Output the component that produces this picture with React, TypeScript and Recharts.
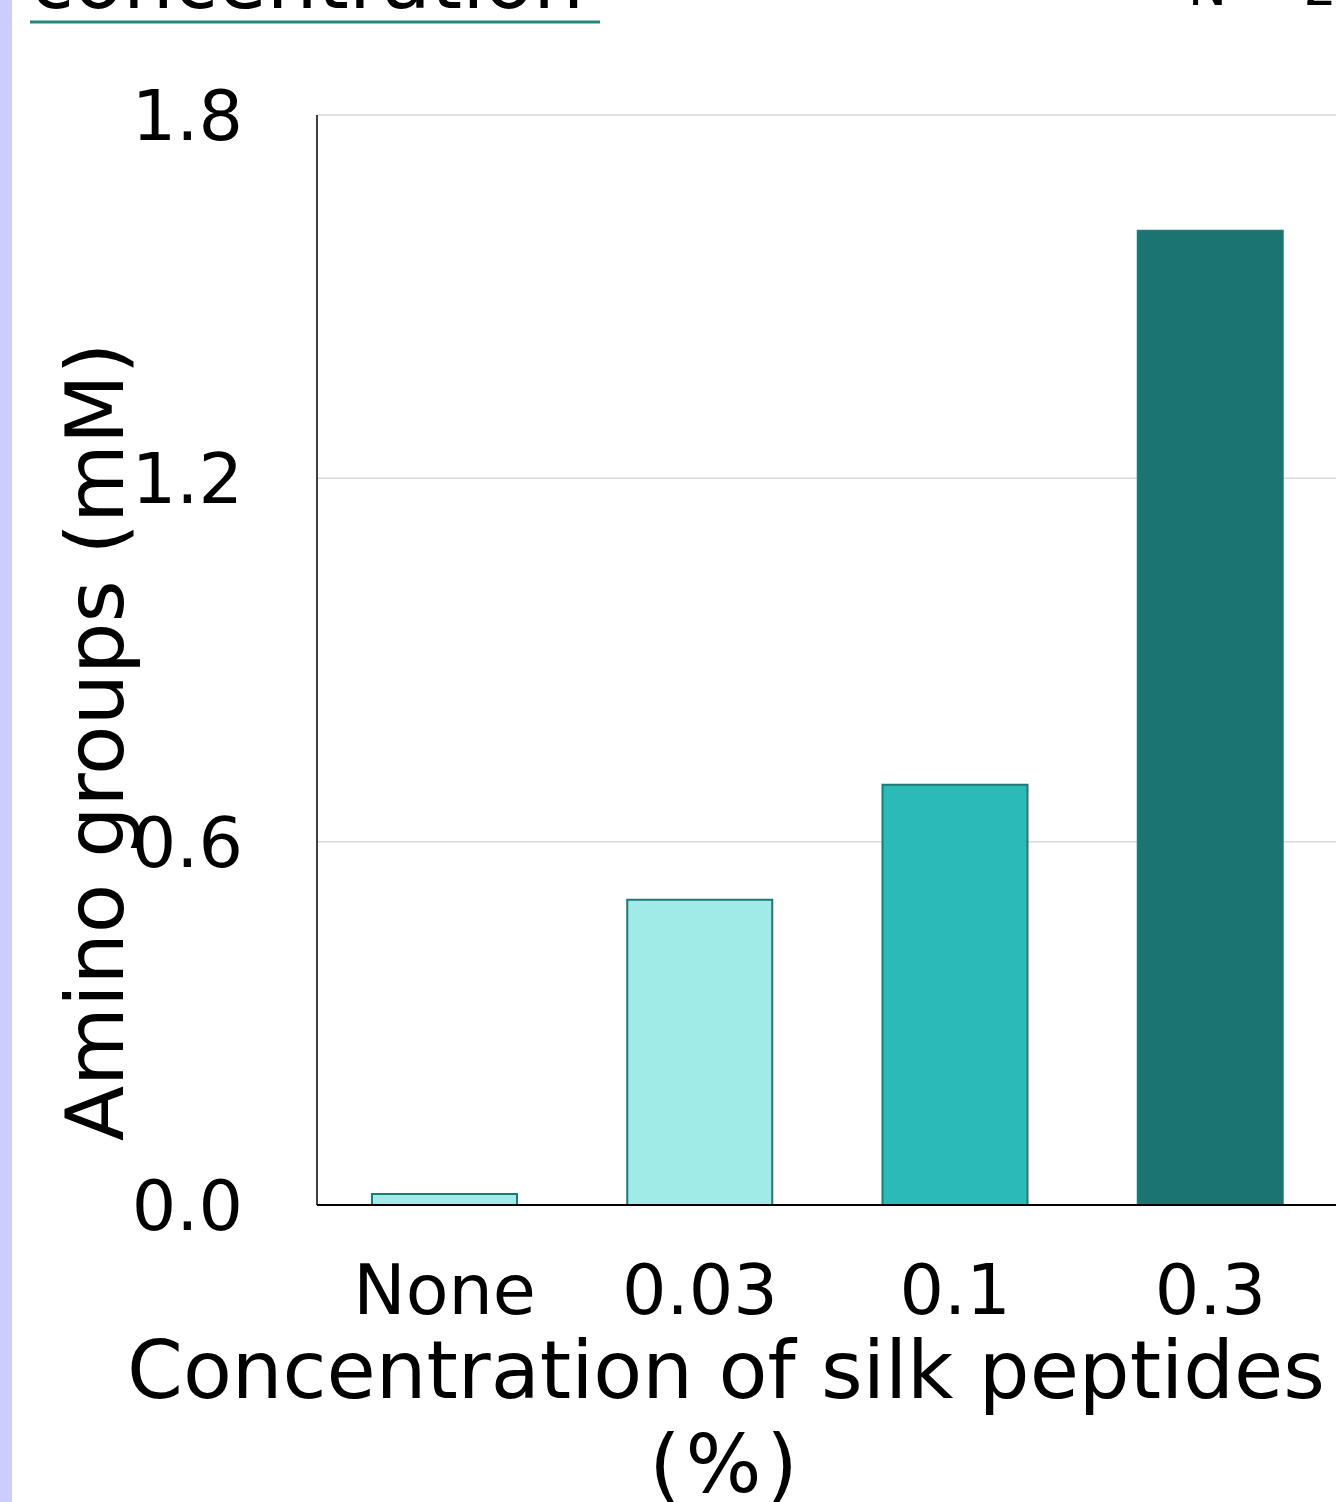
import { BarChart, Bar, Cell, XAxis, YAxis, CartesianGrid } from "recharts";

const FONT = "'DejaVu Sans', Verdana, sans-serif";

const categories = ["None", "0.03", "0.1", "0.3"];
const aminoGroups = [0.018, 0.504, 0.694, 1.609];
const barColors = ["#a0eae8", "#a0eae8", "#2bbab6", "#1c7470"];
const yTicks = [0, 0.6, 1.2, 1.8];

const data = categories.map((name, i) => ({ name, value: aminoGroups[i] }));

export default function App() {
  return (
    <div
      style={{
        position: "absolute",
        left: 0,
        top: 0,
        width: 1336,
        height: 1502,
        overflow: "hidden",
        background: "#fff",
        fontFamily: FONT,
      }}
    >
      <BarChart
        width={1340}
        height={1502}
        data={data}
        margin={{ top: 115, right: 2, left: 0, bottom: 0 }}
      >
        <CartesianGrid vertical={false} stroke="#d9d9d9" strokeWidth={1.5} />
        <XAxis
          dataKey="name"
          height={297}
          axisLine={{ stroke: "#000", strokeWidth: 2 }}
          tickLine={false}
          tickSize={0}
          tickMargin={59}
          tick={{ fontSize: 70, fill: "#000", fontFamily: FONT }}
        />
        <YAxis
          width={317}
          domain={[0, 1.8]}
          ticks={yTicks}
          tickFormatter={(v) => Number(v).toFixed(1)}
          axisLine={{ stroke: "#000", strokeWidth: 1.5 }}
          tickLine={false}
          tickSize={0}
          tickMargin={74}
          tick={{ fontSize: 70, fill: "#000", fontFamily: FONT }}
        />
        <Bar dataKey="value" barSize={145} isAnimationActive={false}>
          {data.map((entry, i) => (
            <Cell key={entry.name} fill={barColors[i]} stroke="#1f7a76" strokeWidth={2} />
          ))}
        </Bar>
        <text
          x={123}
          y={742}
          transform="rotate(-90, 123, 742)"
          textAnchor="middle"
          fontSize={81}
          fill="#000"
          fontFamily={FONT}
        >
          Amino groups (mM)
        </text>
        <text textAnchor="middle" fontSize={80} fill="#000" fontFamily={FONT}>
          <tspan x={726} y={1398}>Concentration of silk peptides</tspan>
          <tspan x={726} y={1492} letterSpacing={5}>(%)</tspan>
        </text>
      </BarChart>
      <svg
        width={1336}
        height={60}
        style={{ position: "absolute", left: 0, top: 0, pointerEvents: "none" }}
      >
        <text x={30} y={8} fontSize={80} fill="#000" fontFamily={FONT}>
          concentration
        </text>
        <line x1={30} x2={600} y1={22} y2={22} stroke="#23877f" strokeWidth={3} />
        <text x={1188} y={5} fontSize={52} fill="#000" fontFamily={FONT}>
          N = 2
        </text>
      </svg>
      <div
        style={{
          position: "absolute",
          left: 0,
          top: 0,
          width: 12,
          height: 1502,
          background: "#ccccff",
        }}
      />
    </div>
  );
}
